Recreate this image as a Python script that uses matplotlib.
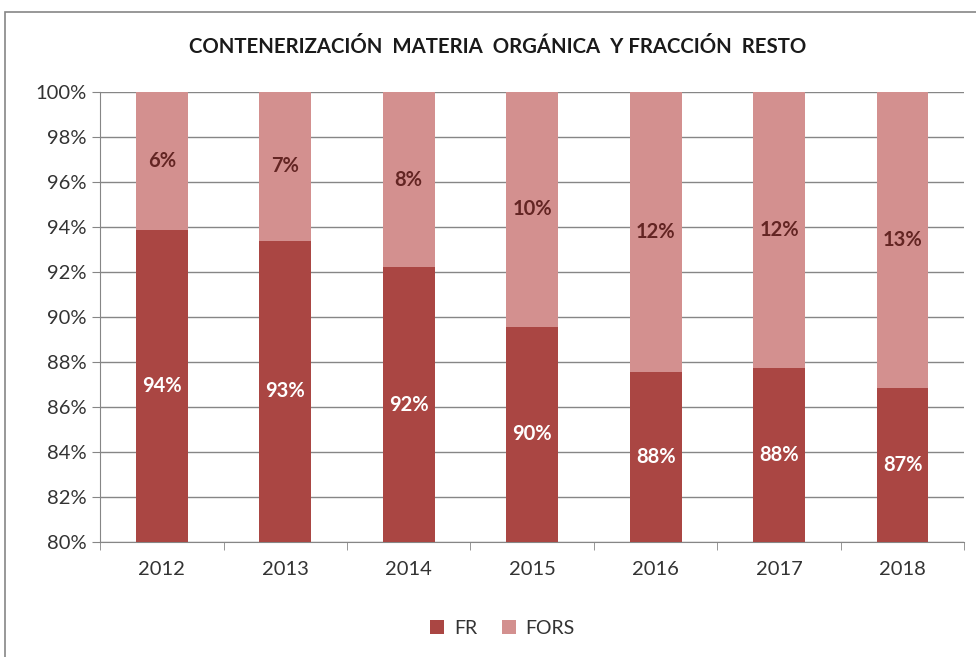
import matplotlib.pyplot as plt
from matplotlib.patches import Rectangle
from matplotlib.ticker import FixedLocator, MultipleLocator, FuncFormatter

years = ['2012', '2013', '2014', '2015', '2016', '2017', '2018']
fr = [93.87, 93.38, 92.22, 89.56, 87.56, 87.73, 86.84]
fors = [100 - v for v in fr]

c_fr = '#AA4643'
c_fors = '#D3908F'
grey = '#868686'

plt.rcParams['font.family'] = ['Lato', 'DejaVu Sans']

fig = plt.figure(figsize=(9.76, 6.57), dpi=100)
ax = fig.add_axes([0.1025, 0.175, 0.8855, 0.685])

x = list(range(len(years)))
ax.bar(x, fr, width=0.42, color=c_fr, label='FR', zorder=3)
ax.bar(x, fors, width=0.42, bottom=fr, color=c_fors, label='FORS', zorder=3)

ymin = 80
for i in x:
    ax.text(i, (ymin + fr[i]) / 2, f'{round(fr[i])}%', ha='center', va='center',
            color='white', fontsize=14.5, fontweight='bold', zorder=4)
    ax.text(i, (fr[i] + 100) / 2, f'{round(fors[i])}%', ha='center', va='center',
            color='#632523', fontsize=14.5, fontweight='bold', zorder=4)

ax.set_ylim(ymin, 100)
ax.set_xlim(-0.5, len(years) - 0.5)
ax.yaxis.set_major_locator(MultipleLocator(2))
ax.yaxis.set_major_formatter(FuncFormatter(lambda v, p: f'{v:.0f}%'))
ax.grid(axis='y', color=grey, lw=1, zorder=0)

ax.set_xticks(x)
ax.set_xticklabels(years)
ax.tick_params(axis='x', which='major', length=0, pad=14, labelsize=14.5, colors='#333333')
ax.xaxis.set_minor_locator(FixedLocator([i - 0.5 for i in range(len(years) + 1)]))
ax.tick_params(axis='x', which='minor', length=6, color=grey, direction='out')
ax.tick_params(axis='y', length=6, color=grey, labelsize=14.5, labelcolor='#333333', pad=4)

for s in ['top', 'right']:
    ax.spines[s].set_visible(False)
for s in ['left', 'bottom']:
    ax.spines[s].set_color(grey)

fig.text(0.51, 0.928, 'CONTENERIZACIÓN  MATERIA  ORGÁNICA  Y FRACCIÓN  RESTO',
         ha='center', va='center', fontsize=14.7, fontweight='bold', color='#1a1a1a')

fig.legend(loc='center', bbox_to_anchor=(0.515, 0.044), ncol=2, frameon=False,
           fontsize=14, handlelength=0.7, handleheight=0.7, columnspacing=1.3,
           handletextpad=0.5, labelcolor='#333333')

fig.patches.append(Rectangle((5 / 976, -0.1), 1.2, 0.1 + 1 - 12 / 657,
                             transform=fig.transFigure, fill=False,
                             edgecolor=grey, lw=1.2))

fig.savefig('out.png', dpi=100)
